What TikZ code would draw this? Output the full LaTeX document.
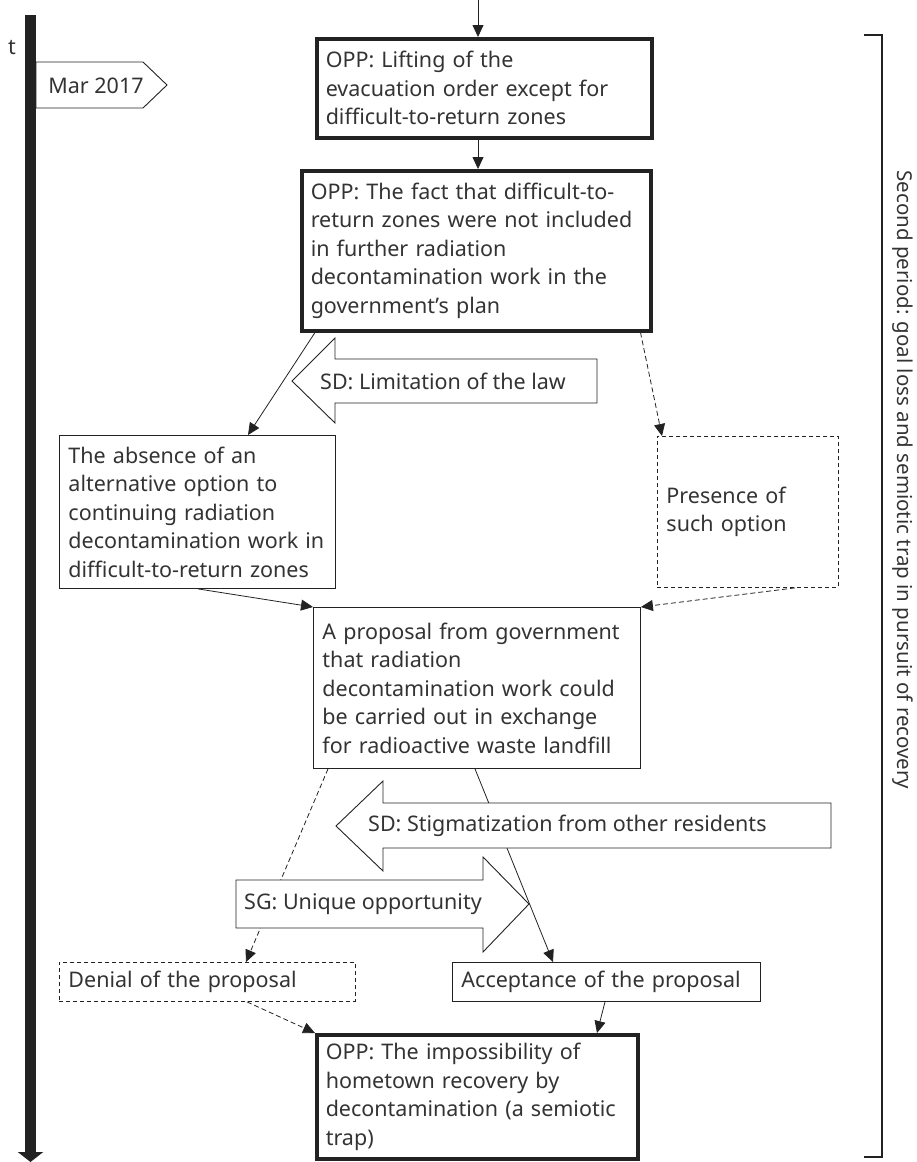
\documentclass[tikz,border=0pt]{standalone}
\usepackage{fontspec}
\setmainfont{Noto Sans}
\usetikzlibrary{arrows.meta}
\definecolor{ink}{HTML}{333333}
\definecolor{edge}{HTML}{222222}

\begin{document}
\begin{tikzpicture}[
				x=1pt,y=-1pt,
				font=\fontsize{21.5}{28.5}\selectfont,
				box/.style={draw=edge,line width=0.9pt,rectangle,align=left,inner xsep=9pt,inner ysep=0pt,anchor=north west,text=ink},
				opp/.style={box,line width=3.5pt},
				alt/.style={box,dash pattern=on 4pt off 3pt},
				link/.style={draw=edge,line width=0.8pt,-{Triangle[length=12pt,width=11pt]}},
				altlink/.style={link,dash pattern=on 5pt off 3pt},
				force/.style={draw=edge,line width=0.9pt,fill=white},
				label/.style={anchor=west,inner sep=0pt,text=ink}
				]
				\useasboundingbox (0,0) rectangle (917,1162);
				
				\node[opp,text width=317pt,minimum height=99pt] (lift) at (315,37) {OPP: Lifting of the\\evacuation order except for\\difficult-to-return zones};
				\node[opp,text width=331pt,minimum height=160pt] (fact) at (300,169) {OPP: The fact that difficult-to-\\return zones were not included\\in further radiation\\decontamination work in the\\government’s plan};
				\node[box,text width=258pt,minimum height=153pt] (absence) at (59,435) {The absence of an\\alternative option to\\continuing radiation\\decontamination work in\\difficult-to-return zones};
				\node[alt,text width=163pt,minimum height=151pt] (presence) at (657,436) {Presence of\\such option};
				\node[box,text width=309pt,minimum height=161pt] (proposal) at (313,607) {A proposal from government\\that radiation\\decontamination work could\\be carried out in exchange\\for radioactive waste landfill};
				\node[alt,text width=278pt,minimum height=39pt] (denial) at (59,962) {Denial of the proposal};
				\node[box,text width=290pt,minimum height=39pt] (acceptance) at (452,962) {Acceptance of the proposal};
				\node[opp,text width=303pt,minimum height=124pt] (trap) at (315,1033) {OPP: The impossibility of\\hometown recovery by\\decontamination (a semiotic\\trap)};
				
				% Flusso
				\coordinate (entry) at (478,0);
				\draw[link] (entry) -- (entry |- lift.north);
				\draw[link] (entry |- lift.south) -- (entry |- fact.north);
				\draw[link] ([xshift=15pt]fact.south west) -- ([xshift=189pt]absence.north west);
				\draw[altlink] ([xshift=-12pt]fact.south east) -- ([xshift=5pt]presence.north west);
				\draw[link] ([xshift=139pt]absence.south west) -- (proposal.north west);
				\draw[altlink] ([xshift=138pt]presence.south west) -- (proposal.north east);
				\draw[altlink] ([xshift=15pt]proposal.south west) -- ([xshift=187pt]denial.north west);
				\draw[link] ([xshift=162pt]proposal.south west) -- ([xshift=101pt]acceptance.north west);
				\draw[altlink] ([xshift=188pt]denial.south west) -- (trap.north west);
				\draw[link] ([xshift=153pt]acceptance.south west) -- ([xshift=282pt]trap.north west);
				
				% Frecce SD / SG
				\draw[force] (597,359) -- (335,359) -- (335,338) -- (292,381) -- (335,423) -- (335,403) -- (597,403) -- cycle;
				\node[label] (law) at (320,381) {SD: Limitation of the law};
				\draw[force] (831,803) -- (383,803) -- (383,781) -- (336,826) -- (383,871) -- (383,848) -- (831,848) -- cycle;
				\node[label] (stigma) at (368,826) {SD: Stigmatization from other residents};
				\draw[force] (236,880) -- (483,880) -- (483,857) -- (529,904) -- (483,952) -- (483,928) -- (236,928) -- cycle;
				\node[label] (chance) at (244,904) {SG: Unique opportunity};
				
				% Asse temporale
				\draw[force] (36,62) -- (143,62) -- (167,85) -- (143,108) -- (36,108) -- cycle;
				\node[text=ink] (mar) at (96,86) {Mar 2017};
				\coordinate (tstart) at (30.5,15);
				\coordinate (tend) at (30.5,1162);
				\draw[line width=11pt,draw=edge,-{Triangle[length=10pt,width=25pt]}] (tstart) -- (tend);
				\node[text=ink,font=\bfseries\fontsize{21.5}{26}\selectfont] (tlabel) at (12,48) {t};
				
				% Periodo
				\draw[edge,line width=2.2pt] (864,35) -- (882,35) -- (882,1157) -- (864,1157);
				\node[rotate=-90,text=ink,font=\fontsize{20.5}{26}\selectfont] (period) at (903,480) {Second period: goal loss and semiotic trap in pursuit of recovery};
				
			\end{tikzpicture}
\end{document}
